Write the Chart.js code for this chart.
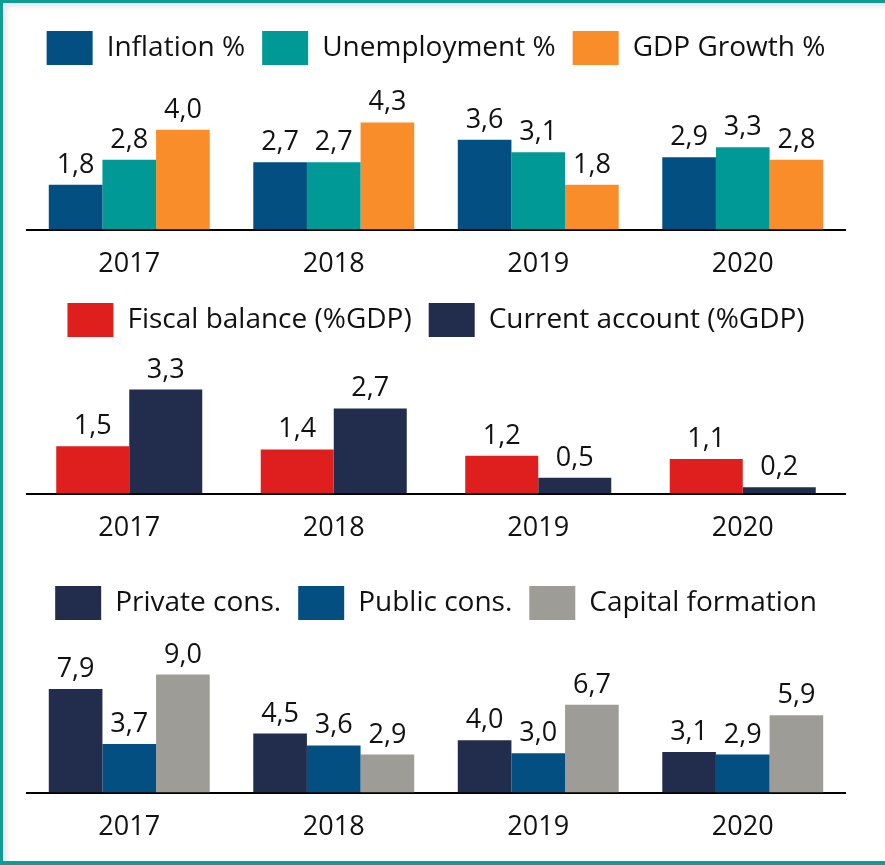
<!DOCTYPE html>
<html>
<head>
<meta charset="utf-8">
<script src="https://cdn.jsdelivr.net/npm/chart.js@4.4.1/dist/chart.umd.min.js"></script>
<style>
  html, body { margin: 0; padding: 0; background: #fff; }
  #frame {
    position: absolute; left: 0; top: 0; width: 882px; height: 858px;
    border-top: 3px solid #0f9c95; border-left: 3px solid #0f9c95; border-bottom: 4px solid #0f9c95;
    box-shadow: inset 7px 7px 6px -4px rgba(0,0,0,0.12);
    overflow: hidden;
  }
  .panel { position: absolute; left: 0; width: 885px; }
  .panel canvas { display: block; }
</style>
</head>
<body>
<div id="frame"></div>
<div class="panel" style="top:0;height:300px"><canvas id="macroChart"></canvas></div>
<div class="panel" style="top:286px;height:278px"><canvas id="balanceChart"></canvas></div>
<div class="panel" style="top:569px;height:294px"><canvas id="demandChart"></canvas></div>
<script>
// --- data ---
const years = ['2017', '2018', '2019', '2020'];

const inflation = [1.8, 2.7, 3.6, 2.9];
const unemployment = [2.8, 2.7, 3.1, 3.3];
const gdpGrowth = [4.0, 4.3, 1.8, 2.8];

const fiscalBalance = [1.5, 1.4, 1.2, 1.1];
const currentAccount = [3.3, 2.7, 0.5, 0.2];

const privateCons = [7.9, 4.5, 4.0, 3.1];
const publicCons = [3.7, 3.6, 3.0, 2.9];
const capitalFormation = [9.0, 2.9, 6.7, 5.9];

// colours
const DARK_BLUE = '#034f82';
const TEAL = '#019995';
const ORANGE = '#f98d29';
const RED = '#df1e1e';
const NAVY = '#222d4e';
const GREY = '#9d9c97';

Chart.defaults.font.family = "'Open Sans', 'Noto Sans', sans-serif";
Chart.defaults.color = '#111';
Chart.defaults.animation = false;

// value labels above each bar, decimal comma
const valueLabels = {
    id: 'valueLabels',
    afterDatasetsDraw(chart) {
        const ctx = chart.ctx;
        ctx.save();
        ctx.font = "27px 'Open Sans', 'Noto Sans', sans-serif";
        ctx.fillStyle = '#111';
        ctx.textAlign = 'center';
        ctx.textBaseline = 'alphabetic';
        chart.data.datasets.forEach((ds, i) => {
            const meta = chart.getDatasetMeta(i);
            meta.data.forEach((bar, j) => {
                const txt = ds.data[j].toFixed(1).replace('.', ',');
                ctx.fillText(txt, bar.x, bar.y - 12);
            });
        });
        ctx.restore();
    }
};

function makeChart(id, datasets, yMax, catPct, topPad) {
    const ctx = document.getElementById(id).getContext('2d');
    return new Chart(ctx, {
        type: 'bar',
        data: {
            labels: years,
            datasets: datasets.map(d => ({
                label: d.label,
                data: d.data,
                backgroundColor: d.color,
                borderWidth: 0,
                categoryPercentage: catPct,
                barPercentage: 1
            }))
        },
        options: {
            responsive: true,
            maintainAspectRatio: false,
            layout: { padding: { left: 27, right: 40, top: topPad, bottom: 0 } },
            plugins: {
                legend: {
                    position: 'top',
                    labels: {
                        boxWidth: 46,
                        boxHeight: 34,
                        padding: 17,
                        color: '#111',
                        font: { size: 28 }
                    }
                },
                tooltip: { enabled: false }
            },
            scales: {
                x: {
                    grid: { display: false, drawTicks: false },
                    border: { display: true, color: '#000', width: 2 },
                    ticks: { padding: 19, color: '#111', font: { size: 27 } }
                },
                y: {
                    display: false,
                    min: 0,
                    max: yMax
                }
            }
        },
        plugins: [valueLabels]
    });
}

makeChart('macroChart', [
    { label: 'Inflation %', data: inflation, color: DARK_BLUE },
    { label: 'Unemployment %', data: unemployment, color: TEAL },
    { label: 'GDP Growth %', data: gdpGrowth, color: ORANGE }
], 6.2, 0.787, 14);

makeChart('balanceChart', [
    { label: 'Fiscal balance (%GDP)', data: fiscalBalance, color: RED },
    { label: 'Current account (%GDP)', data: currentAccount, color: NAVY }
], 4.65, 0.714, 0);

makeChart('demandChart', [
    { label: 'Private cons.', data: privateCons, color: NAVY },
    { label: 'Public cons.', data: publicCons, color: DARK_BLUE },
    { label: 'Capital formation', data: capitalFormation, color: GREY }
], 12.4, 0.787, 0);
</script>
</body>
</html>
